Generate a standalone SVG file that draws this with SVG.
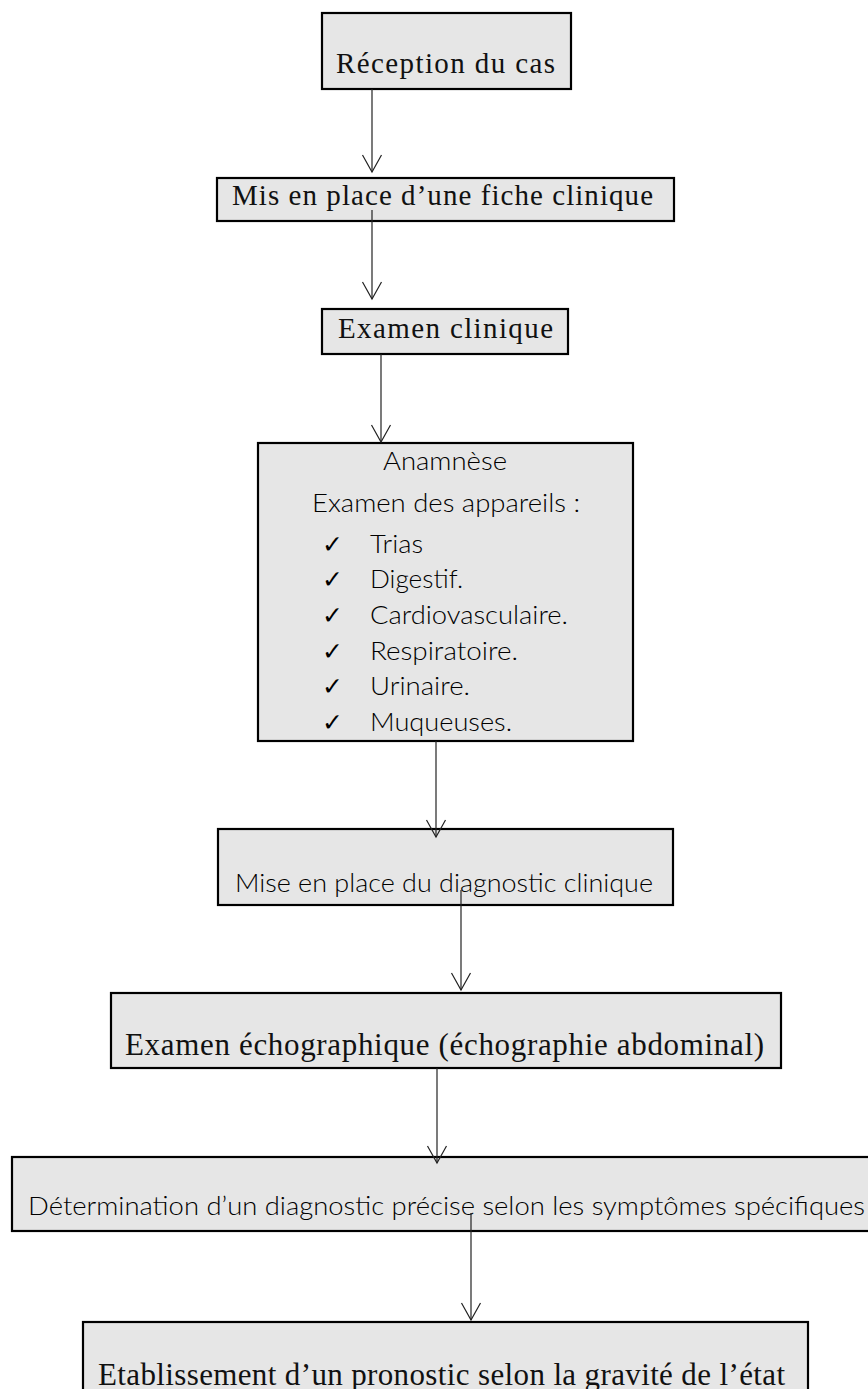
<svg xmlns="http://www.w3.org/2000/svg" width="868" height="1389" viewBox="0 0 868 1389">
  <style>
    .box { fill: #e6e6e6; stroke: #000; stroke-width: 2.2; }
    .serif { font-family: "Liberation Serif", "DejaVu Serif", serif; font-size: 29px; fill: #111; }
    .serif-l { font-family: "Liberation Serif", "DejaVu Serif", serif; font-size: 31px; fill: #111; }
    .sans { font-family: Lato, "Open Sans", "Liberation Sans", sans-serif; font-weight: 300; font-size: 25px; fill: #000; }
    .check { font-family: "DejaVu Sans", sans-serif; font-size: 25px; fill: #000; }
    .conn { stroke: #222; stroke-width: 1.2; fill: none; }
  </style>
  <defs>
    <marker id="arr" markerUnits="userSpaceOnUse" markerWidth="20" markerHeight="22" viewBox="0 -11 19 22" refX="18" refY="0" orient="auto">
      <path d="M1,-9.5 L18,0 L1,9.5" fill="none" stroke="#222" stroke-width="1.2"/>
    </marker>
  </defs>
  <rect width="868" height="1389" fill="#fff"/>

  <g id="n1">
    <rect class="box" x="322" y="13" width="249" height="76"/>
    <text class="serif" x="336" y="73" textLength="219" lengthAdjust="spacing">Réception du cas</text>
  </g>
  <g id="n2">
    <rect class="box" x="217" y="178" width="457" height="43"/>
    <text class="serif" x="232" y="205" textLength="421" lengthAdjust="spacing">Mis en place d’une fiche clinique</text>
  </g>
  <g id="n3">
    <rect class="box" x="322" y="309" width="246" height="45"/>
    <text class="serif" x="338" y="338" textLength="215" lengthAdjust="spacing">Examen clinique</text>
  </g>
  <g id="n4">
    <rect class="box" x="258" y="443" width="375" height="298"/>
    <text class="sans" x="383" y="470" textLength="124" lengthAdjust="spacingAndGlyphs">Anamnèse</text>
    <text class="sans" x="312" y="512" textLength="268" lengthAdjust="spacingAndGlyphs">Examen des appareils :</text>
    <text class="check" x="322" y="553">✓</text>
    <text class="sans" x="370" y="553" textLength="53" lengthAdjust="spacingAndGlyphs">Trias</text>
    <text class="check" x="322" y="588">✓</text>
    <text class="sans" x="370" y="588" textLength="93" lengthAdjust="spacingAndGlyphs">Digestif.</text>
    <text class="check" x="322" y="624">✓</text>
    <text class="sans" x="370" y="624" textLength="198" lengthAdjust="spacingAndGlyphs">Cardiovasculaire.</text>
    <text class="check" x="322" y="660">✓</text>
    <text class="sans" x="370" y="660" textLength="148" lengthAdjust="spacingAndGlyphs">Respiratoire.</text>
    <text class="check" x="322" y="695">✓</text>
    <text class="sans" x="370" y="695" textLength="100" lengthAdjust="spacingAndGlyphs">Urinaire.</text>
    <text class="check" x="322" y="731">✓</text>
    <text class="sans" x="370" y="731" textLength="142" lengthAdjust="spacingAndGlyphs">Muqueuses.</text>
  </g>
  <g id="n5">
    <rect class="box" x="218" y="829" width="455" height="76"/>
    <text class="sans" x="235" y="892" textLength="418" lengthAdjust="spacingAndGlyphs">Mise en place du diagnostic clinique</text>
  </g>
  <g id="n6">
    <rect class="box" x="111" y="993" width="670" height="75"/>
    <text class="serif-l" x="125" y="1055" textLength="639" lengthAdjust="spacing">Examen échographique (échographie abdominal)</text>
  </g>
  <g id="n7">
    <rect class="box" x="12" y="1157" width="870" height="74"/>
    <text class="sans" x="28" y="1215" textLength="837" lengthAdjust="spacingAndGlyphs">Détermination d’un diagnostic précise selon les symptômes spécifiques</text>
  </g>
  <g id="n8">
    <rect class="box" x="83" y="1322" width="725" height="80"/>
    <text class="serif-l" x="98" y="1385" textLength="687" lengthAdjust="spacing">Etablissement d’un pronostic selon la gravité de l’état</text>
  </g>

  <g id="connectors">
    <line class="conn" x1="372" y1="89" x2="372" y2="172" marker-end="url(#arr)"/>
    <line class="conn" x1="372" y1="210" x2="372" y2="299" marker-end="url(#arr)"/>
    <line class="conn" x1="381" y1="354" x2="381" y2="442" marker-end="url(#arr)"/>
    <line class="conn" x1="436" y1="741" x2="436" y2="837" marker-end="url(#arr)"/>
    <line class="conn" x1="461" y1="890" x2="461" y2="990" marker-end="url(#arr)"/>
    <line class="conn" x1="437" y1="1068" x2="437" y2="1163" marker-end="url(#arr)"/>
    <line class="conn" x1="471" y1="1213" x2="471" y2="1320" marker-end="url(#arr)"/>
  </g>
</svg>
